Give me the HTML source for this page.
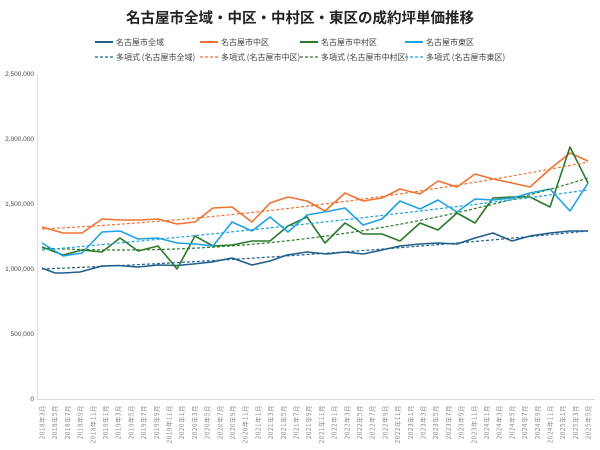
<!DOCTYPE html>
<html><head><meta charset="utf-8"><style>
body{margin:0;background:#fff;}
svg{display:block;font-family:"Liberation Sans","Noto Sans CJK JP",sans-serif;}
</style></head><body>
<svg width="600" height="450" xmlns="http://www.w3.org/2000/svg">
<rect width="600" height="450" fill="#fff"/>
<text x="300" y="23" text-anchor="middle" font-size="14.5" font-weight="bold" fill="#222" font-family="'Noto Sans CJK JP',sans-serif">名古屋市全域・中区・中村区・東区の成約坪単価推移</text>
<g font-size="8" fill="#444" font-family="'Noto Sans CJK JP',sans-serif">
<line x1="95" y1="42" x2="113" y2="42" stroke="#1f5f8b" stroke-width="2"/><text x="116" y="45">名古屋市全域</text>
<line x1="200" y1="42" x2="218" y2="42" stroke="#f07233" stroke-width="2"/><text x="221" y="45">名古屋市中区</text>
<line x1="300" y1="42" x2="318" y2="42" stroke="#2a7a2a" stroke-width="2"/><text x="321" y="45">名古屋市中村区</text>
<line x1="405" y1="42" x2="423" y2="42" stroke="#1ea3e0" stroke-width="2"/><text x="426" y="45">名古屋市東区</text>
<line x1="95" y1="57" x2="113" y2="57" stroke="#1f5f8b" stroke-width="1.2" stroke-dasharray="3,2"/><text x="116" y="60">多項式 (名古屋市全域)</text>
<line x1="200" y1="57" x2="218" y2="57" stroke="#f07233" stroke-width="1.2" stroke-dasharray="3,2"/><text x="221" y="60">多項式 (名古屋市中区)</text>
<line x1="300" y1="57" x2="318" y2="57" stroke="#2a7a2a" stroke-width="1.2" stroke-dasharray="3,2"/><text x="321" y="60">多項式 (名古屋市中村区)</text>
<line x1="405" y1="57" x2="423" y2="57" stroke="#1ea3e0" stroke-width="1.2" stroke-dasharray="3,2"/><text x="426" y="60">多項式 (名古屋市東区)</text>
</g>
<g font-size="6.5" fill="#444" text-anchor="end">
<text x="34" y="76">2,500,000</text>
<text x="34" y="141">2,000,000</text>
<text x="34" y="206">1,500,000</text>
<text x="34" y="271">1,000,000</text>
<text x="34" y="336">500,000</text>
<text x="34" y="401">0</text>
</g>
<line x1="37.5" y1="74" x2="37.5" y2="399" stroke="#ddd" stroke-width="1"/>
<line x1="37" y1="399.5" x2="595" y2="399.5" stroke="#ddd" stroke-width="1"/>
<g font-size="6.3" fill="#888" text-anchor="end" font-family="'Noto Sans CJK JP',sans-serif" letter-spacing="0.6">
<text transform="translate(44.5,405) rotate(-90)">2018年3月</text>
<text transform="translate(57.2,405) rotate(-90)">2018年5月</text>
<text transform="translate(69.9,405) rotate(-90)">2018年7月</text>
<text transform="translate(82.6,405) rotate(-90)">2018年9月</text>
<text transform="translate(95.3,405) rotate(-90)">2018年11月</text>
<text transform="translate(108,405) rotate(-90)">2019年1月</text>
<text transform="translate(120.7,405) rotate(-90)">2019年3月</text>
<text transform="translate(133.4,405) rotate(-90)">2019年5月</text>
<text transform="translate(146.1,405) rotate(-90)">2019年7月</text>
<text transform="translate(158.8,405) rotate(-90)">2019年9月</text>
<text transform="translate(171.5,405) rotate(-90)">2019年11月</text>
<text transform="translate(184.2,405) rotate(-90)">2020年1月</text>
<text transform="translate(196.9,405) rotate(-90)">2020年3月</text>
<text transform="translate(209.6,405) rotate(-90)">2020年5月</text>
<text transform="translate(222.3,405) rotate(-90)">2020年7月</text>
<text transform="translate(235,405) rotate(-90)">2020年9月</text>
<text transform="translate(247.7,405) rotate(-90)">2020年11月</text>
<text transform="translate(260.4,405) rotate(-90)">2021年1月</text>
<text transform="translate(273.1,405) rotate(-90)">2021年3月</text>
<text transform="translate(285.8,405) rotate(-90)">2021年5月</text>
<text transform="translate(298.5,405) rotate(-90)">2021年7月</text>
<text transform="translate(311.2,405) rotate(-90)">2021年9月</text>
<text transform="translate(323.9,405) rotate(-90)">2021年11月</text>
<text transform="translate(336.6,405) rotate(-90)">2022年1月</text>
<text transform="translate(349.3,405) rotate(-90)">2022年3月</text>
<text transform="translate(362,405) rotate(-90)">2022年5月</text>
<text transform="translate(374.7,405) rotate(-90)">2022年7月</text>
<text transform="translate(387.4,405) rotate(-90)">2022年9月</text>
<text transform="translate(400.1,405) rotate(-90)">2022年11月</text>
<text transform="translate(412.8,405) rotate(-90)">2023年1月</text>
<text transform="translate(425.5,405) rotate(-90)">2023年3月</text>
<text transform="translate(438.2,405) rotate(-90)">2023年5月</text>
<text transform="translate(450.9,405) rotate(-90)">2023年7月</text>
<text transform="translate(463.6,405) rotate(-90)">2023年9月</text>
<text transform="translate(476.3,405) rotate(-90)">2023年11月</text>
<text transform="translate(489,405) rotate(-90)">2024年1月</text>
<text transform="translate(501.7,405) rotate(-90)">2024年3月</text>
<text transform="translate(514.4,405) rotate(-90)">2024年5月</text>
<text transform="translate(527.1,405) rotate(-90)">2024年7月</text>
<text transform="translate(539.8,405) rotate(-90)">2024年9月</text>
<text transform="translate(552.5,405) rotate(-90)">2024年11月</text>
<text transform="translate(565.2,405) rotate(-90)">2025年1月</text>
<text transform="translate(577.9,405) rotate(-90)">2025年3月</text>
<text transform="translate(590.6,405) rotate(-90)">2025年5月</text>
</g>
<g fill="none" stroke-width="1.6" stroke-linejoin="round">
<polyline stroke="#1f5f8b" points="42,268 55,273 63,273 80,272 102,266 118,265.5 138,267 158,265 177,265.5 193,264 212,262 232,258 252,265 270,261 287,255 307,252 327,254 345,252 363,254 382,250 400,246 420,244 438,243 457,244 475,238 493,233 512,241 530,236 550,233 570,231 588,231"/>
<polyline stroke="#f07233" points="42,227 63,233 82,233 102,219 120,220 140,220 158,219 177,224 195,222 213,208 232,207 252,222 270,203 288,197 307,201 325,211 345,193 363,201 382,198 400,189 420,194 438,181 457,187 475,174 493,179 512,183 530,187 550,169 570,153 588,161"/>
<polyline stroke="#2a7a2a" points="42,247 63,255 82,250 102,252 120,238 138,251 158,246 177,269 195,236 213,246 232,245 252,241 270,241 288,226 307,217 325,243 345,223 363,234 382,234 400,241 420,223 438,230 457,213 475,223 493,198 512,197 530,197 550,207 570,147 588,183"/>
<polyline stroke="#1ea3e0" points="42,243 63,256 82,253 102,232 120,231 138,239 158,238 177,243 195,244 213,246 232,222 252,231 270,217 288,232 307,215 330,211 345,208 363,225 382,219 400,201 420,209 438,200 457,212 475,199 493,200 512,198 530,193 550,189 570,211 588,183"/>
</g>
<g fill="none" stroke-width="1.2" stroke-dasharray="3,2">
<path stroke="#1f5f8b" d="M42,269 Q315,258 588,231"/>
<path stroke="#f07233" d="M42,229 Q315,215 588,162"/>
<path stroke="#2a7a2a" d="M42,248 Q315,262 588,178"/>
<path stroke="#1ea3e0" d="M42,250 Q315,226 588,190"/>
</g>
</svg>
</body></html>
